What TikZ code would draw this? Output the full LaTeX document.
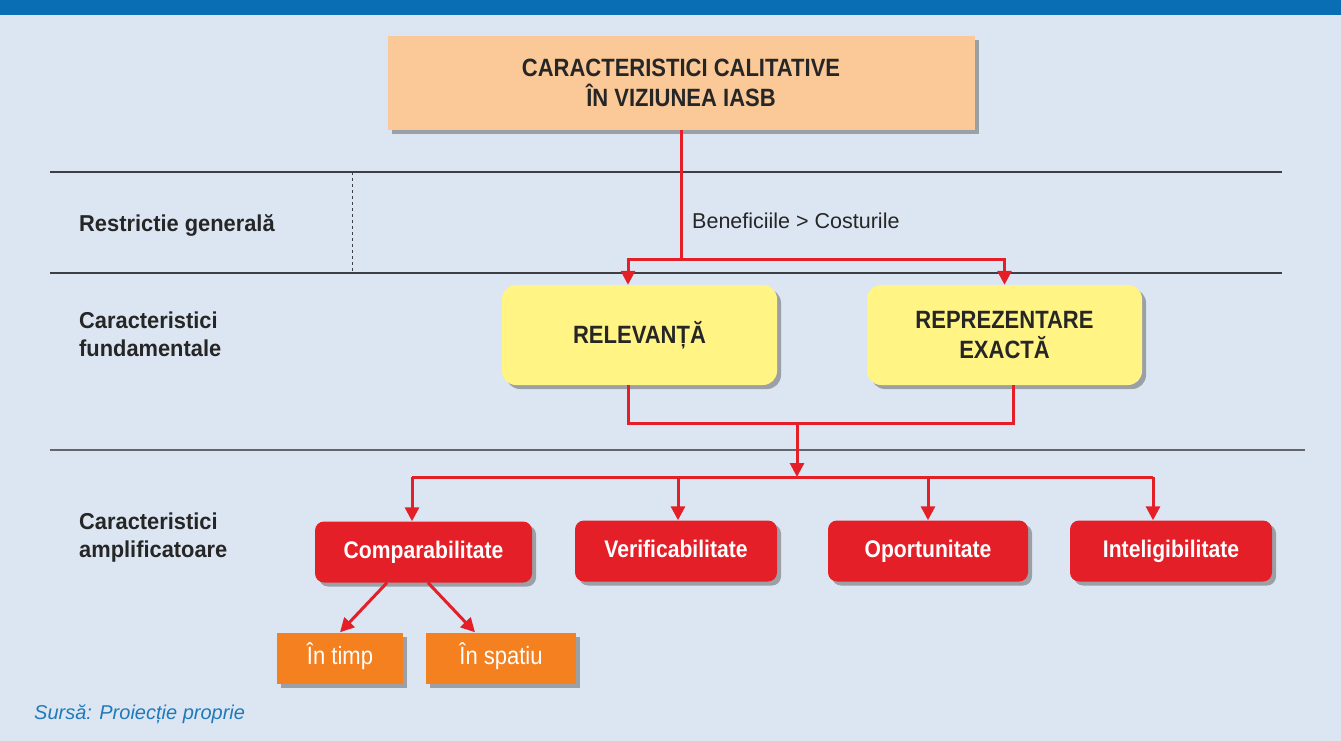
\documentclass[tikz,border=0pt]{standalone}
\usepackage{fontspec}
\setmainfont{Liberation Sans}
\newfontfamily\ingust[FakeStretch=0.88]{Liberation Sans}
\newfontfamily\semiingust[FakeStretch=0.95]{Liberation Sans}
\usetikzlibrary{arrows.meta,shadows}
\definecolor{IASBfundal}{HTML}{DCE6F2}
\definecolor{IASBbara}{HTML}{0A6EB4}
\definecolor{IASBpiersica}{HTML}{FAC997}
\definecolor{IASBgalben}{HTML}{FFF484}
\definecolor{IASBrosu}{HTML}{E51F28}
\definecolor{IASBportocaliu}{HTML}{F4801F}
\definecolor{IASBlinie}{HTML}{3C4046}
\definecolor{IASBsursa}{HTML}{2079B8}
\newcommand{\sageatavarf}{Triangle[width=14pt, length=14pt]}
\tikzset{
  umbra/.style={drop shadow={shadow xshift=4pt, shadow yshift=-4pt, opacity=.45, fill=black!70}},
  titlu/.style={fill=IASBpiersica, minimum width=587, minimum height=94, inner sep=0,
    align=center, font=\ingust\bfseries\fontsize{25}{30}\selectfont, text=black!85, umbra},
  galben/.style={fill=IASBgalben, rounded corners=14, minimum width=275, minimum height=100,
    inner sep=0, align=center, font=\ingust\bfseries\fontsize{25}{30}\selectfont, text=black!85, umbra},
  rosu/.style={fill=IASBrosu, text=white, rounded corners=9, minimum height=61, inner sep=0,
    text height=17pt, text depth=5pt, font=\ingust\bfseries\fontsize{24}{28}\selectfont, umbra},
  portocaliu/.style={fill=IASBportocaliu, text=white, minimum height=51, inner sep=0,
    text height=18pt, text depth=5pt, font=\ingust\fontsize{25}{28}\selectfont, umbra},
  eticheta/.style={anchor=west, align=left, inner sep=0,
    font=\semiingust\bfseries\fontsize{23}{28}\selectfont, text=black!85},
  fir/.style={draw=IASBrosu, line width=3pt},
  sageata/.style={fir, -{\sageatavarf}},
  despartitor/.style={draw=IASBlinie, line width=2pt}
}
\begin{document}
\begin{tikzpicture}[x=1pt, y=-1pt]

  % fundal si bara de sus
  \useasboundingbox (0,0) rectangle (1341,741);
  \fill[IASBfundal] (0,0) rectangle (1341,741);
  \fill[IASBbara] (0,0) rectangle (1341,15);

  % liniile orizontale
  \draw[despartitor] (50,172) -- (1282,172);
  \draw[despartitor] (50,273) -- (1282,273);
  \draw[despartitor, draw=IASBlinie!80, line width=1.5pt] (50,450) -- (1305,450);
  \draw[IASBlinie, dashed, line width=.8pt] (352,172) -- (352,273);

  % etichetele din stanga
  \node[eticheta] (restr) at (79,225) {Restrictie generală};
  \node[eticheta] (fund) at (79,334) {Caracteristici\\fundamentale};
  \node[eticheta] (ampl) at (79,538) {Caracteristici\\amplificatoare};

  % casetele
  \node[titlu] (iasb) at (681,83) {CARACTERISTICI CALITATIVE\\ÎN VIZIUNEA IASB};
  \node[anchor=west, inner sep=0, font=\fontsize{21.5}{24}\selectfont, text=black!85]
    (benef) at (692,221) {Beneficiile > Costurile};

  \node[galben] (relev) at (639.5,335) {RELEVANȚĂ};
  \node[galben] (repr) at (1004.5,335) {REPREZENTARE\\EXACTĂ};

  \node[rosu, minimum width=217] (comp) at (423.5,552) {Comparabilitate};
  \node[rosu, minimum width=202] (verif) at (676,551) {Verificabilitate};
  \node[rosu, minimum width=200] (oport) at (928,551) {Oportunitate};
  \node[rosu, minimum width=202] (intel) at (1171,551) {Inteligibilitate};

  \node[portocaliu, minimum width=126] (timp) at (340,658) {În timp};
  \node[portocaliu, minimum width=150] (spatiu) at (501,658) {În spatiu};

  % sagetile
  \coordinate (sus) at (681,259);
  \coordinate (jos) at (797,423);
  \coordinate (ramif) at (797,477);
  \draw[fir] (iasb) -- (sus);
  \draw[sageata] (sus) -| ([xshift=-11.5]relev.north);
  \draw[sageata] (sus) -| (repr.north);
  \draw[fir] ([xshift=-11.5]relev.south) |- (jos) -| ([xshift=9]repr.south);
  \draw[sageata] (jos) -- (ramif);
  \draw[fir] ([xshift=-11.5]comp.north |- ramif) -- ([xshift=-18]intel.north |- ramif);
  \foreach \nod/\dx in {comp/-11.5, verif/2, oport/0, intel/-18}
    \draw[sageata] ([xshift=\dx]\nod.north |- ramif) -- ([xshift=\dx]\nod.north);
  \draw[sageata] ([xshift=-36.5]comp.south) -- (timp.north);
  \draw[sageata] ([xshift=4.5]comp.south) -- ([xshift=-26]spatiu.north);

  % sursa
  \node[anchor=west, inner sep=0, font=\itshape\fontsize{20}{24}\selectfont, text=IASBsursa]
    (sursa) at (34,714) {Sursă: Proiecție proprie};

\end{tikzpicture}
\end{document}
